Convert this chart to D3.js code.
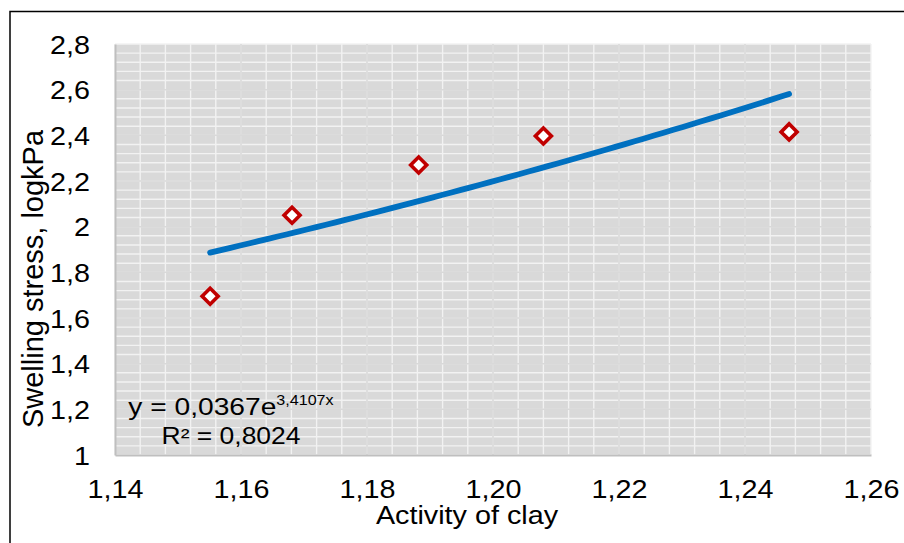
<!DOCTYPE html>
<html>
<head>
<meta charset="utf-8">
<script src="https://cdn.jsdelivr.net/npm/d3@7"></script>
<style>
  html, body { margin: 0; padding: 0; background: #ffffff; }
  svg { display: block; }
  text { font-family: "Liberation Sans", Arial, sans-serif; fill: #000000; }
</style>
</head>
<body>
<svg id="chart" width="904" height="543"></svg>
<script>
// Measured points: clay activity vs. log swelling stress
const activity = [1.1551, 1.1681, 1.1882, 1.2080, 1.2470];
const swelling = [1.695, 2.050, 2.270, 2.397, 2.415];

// Exponential trendline y = a * e^(b x) and its fit quality
const trendA = 0.0367;
const trendB = 3.4107;
const trendLabel = ["y = 0,0367e", "3,4107x"];
const r2Label = "R² = 0,8024";

// Axis ticks
const xTicks = [1.14, 1.16, 1.18, 1.20, 1.22, 1.24, 1.26];
const xTickLabels = ["1,14", "1,16", "1,18", "1,20", "1,22", "1,24", "1,26"];
const yTicks = [1, 1.2, 1.4, 1.6, 1.8, 2, 2.2, 2.4, 2.6, 2.8];
const yTickLabels = ["1", "1,2", "1,4", "1,6", "1,8", "2", "2,2", "2,4", "2,6", "2,8"];

const xTitle = "Activity of clay";
const yTitle = "Swelling stress, logkPa";

const svg = d3.select("#chart");
const plot = { left: 115, right: 871, top: 44, bottom: 455 };

const x = d3.scaleLinear().domain([1.14, 1.26]).range([plot.left, plot.right]);
const y = d3.scaleLinear().domain([1, 2.8]).range([plot.bottom, plot.top]);

// Horizontal text stretch
const SX = 1.15;

// Outer frame
svg.append("rect")
  .attr("x", 10).attr("y", 11.5)
  .attr("width", 920).attr("height", 560)
  .attr("fill", "none").attr("stroke", "#000").attr("stroke-width", 1.5);

// Plot background
svg.append("rect")
  .attr("x", plot.left).attr("y", plot.top)
  .attr("width", plot.right - plot.left).attr("height", plot.bottom - plot.top)
  .attr("fill", "#d9d9d9");

// Minor gridlines (5 per major step)
const xMinor = d3.range(0, 31).map(i => +(1.14 + i * 0.004).toFixed(4));
const yMinor = d3.range(0, 46).map(i => +(1 + i * 0.04).toFixed(4));
const grid = svg.append("g");
grid.selectAll("line.xm").data(xMinor).join("line")
  .attr("x1", d => x(d)).attr("x2", d => x(d))
  .attr("y1", plot.top).attr("y2", plot.bottom)
  .attr("stroke", "#f2f2f2").attr("stroke-width", 1.4);
grid.selectAll("line.ym").data(yMinor).join("line")
  .attr("y1", d => y(d)).attr("y2", d => y(d))
  .attr("x1", plot.left).attr("x2", plot.right)
  .attr("stroke", "#f2f2f2").attr("stroke-width", 1.4);

// Major gridlines in the fill colour
grid.selectAll("line.xM").data(xTicks.slice(1, -1)).join("line")
  .attr("x1", d => x(d)).attr("x2", d => x(d))
  .attr("y1", plot.top).attr("y2", plot.bottom)
  .attr("stroke", "#d9d9d9").attr("stroke-width", 1.5);
grid.selectAll("line.yM").data(yTicks.slice(1, -1)).join("line")
  .attr("y1", d => y(d)).attr("y2", d => y(d))
  .attr("x1", plot.left).attr("x2", plot.right)
  .attr("stroke", "#d9d9d9").attr("stroke-width", 1.5);

// Axes
const xAxis = d3.axisBottom(x).tickValues(xTicks)
  .tickFormat((d, i) => xTickLabels[i]).tickSize(0).tickPadding(0);
const yAxis = d3.axisLeft(y).tickValues(yTicks)
  .tickFormat((d, i) => yTickLabels[i]).tickSize(0).tickPadding(0);

const gx = svg.append("g").attr("transform", `translate(0,${plot.bottom})`).call(xAxis);
gx.select(".domain").attr("stroke", "#bfbfbf").attr("stroke-width", 2);
gx.selectAll(".tick text")
  .attr("font-size", 25).attr("fill", "#000")
  .attr("y", 0).attr("dy", 0)
  .attr("transform", `translate(0,43) scale(${SX},1)`);

const gy = svg.append("g").attr("transform", `translate(${plot.left},0)`).call(yAxis);
gy.select(".domain").attr("stroke", "#bfbfbf").attr("stroke-width", 2);
gy.selectAll(".tick text")
  .attr("font-size", 25).attr("fill", "#000")
  .attr("x", 0).attr("dy", "0.36em")
  .attr("transform", `translate(-25,0) scale(${SX},1)`);
svg.selectAll(".tick text").attr("font-family", "Liberation Sans, Arial, sans-serif");

// Axis titles
svg.append("text")
  .attr("text-anchor", "middle").attr("font-size", 25)
  .attr("transform", `translate(467,524) scale(${SX},1)`)
  .text(xTitle);
svg.append("text")
  .attr("text-anchor", "middle").attr("font-size", 29)
  .attr("transform", "translate(43,279) rotate(-90)")
  .text(yTitle);

// Trendline from the fitted equation
const [xMin, xMax] = d3.extent(activity);
const trendPts = d3.range(0, 61).map(i => {
  const xv = xMin + (xMax - xMin) * i / 60;
  return [xv, trendA * Math.exp(trendB * xv)];
});
svg.append("path")
  .datum(trendPts)
  .attr("d", d3.line().x(d => x(d[0])).y(d => y(d[1])))
  .attr("fill", "none").attr("stroke", "#0070c0")
  .attr("stroke-width", 5.8).attr("stroke-linecap", "round");

// Data markers: hollow diamonds
svg.append("g").selectAll("path").data(activity).join("path")
  .attr("transform", (d, i) => `translate(${x(d)},${y(swelling[i])}) rotate(45)`)
  .attr("d", d3.symbol().type(d3.symbolSquare).size(128))
  .attr("fill", "#ffffff").attr("stroke", "#c00000").attr("stroke-width", 3.6);

// Equation label
const eq = svg.append("text")
  .attr("text-anchor", "middle").attr("font-size", 24.5)
  .attr("transform", `translate(231,415) scale(${SX},1)`);
eq.append("tspan").text(trendLabel[0]);
eq.append("tspan").attr("font-size", 14).attr("dy", -10).text(trendLabel[1]);
svg.append("text")
  .attr("text-anchor", "middle").attr("font-size", 23)
  .attr("transform", `translate(231,444) scale(${SX},1)`)
  .text(r2Label);
</script>
</body>
</html>
